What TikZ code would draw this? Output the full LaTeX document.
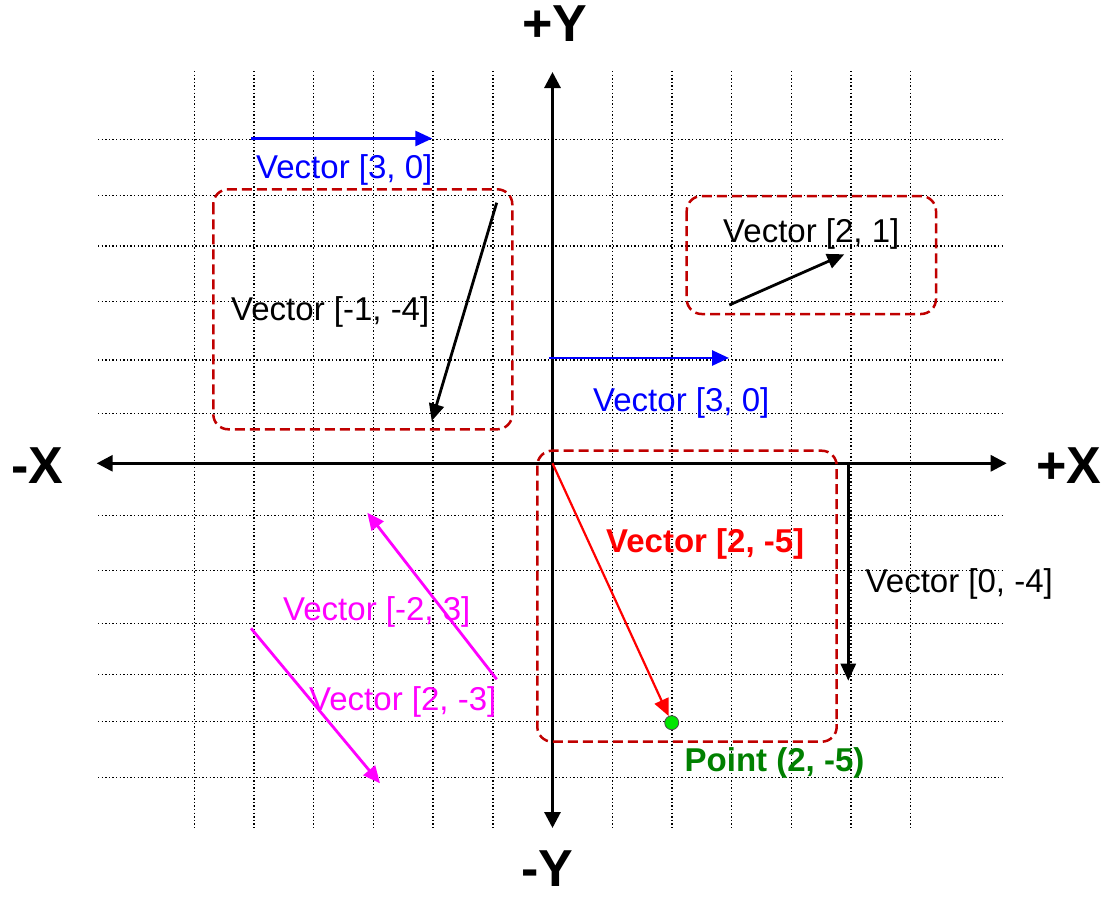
\documentclass[tikz,border=0pt]{standalone}
\usepackage{fontspec}
\setmainfont{Liberation Sans}
\usetikzlibrary{arrows.meta}
\definecolor{VecBlue}{RGB}{0,0,255}
\definecolor{VecRed}{RGB}{255,0,0}
\definecolor{VecMagenta}{RGB}{255,0,255}
\definecolor{FrameRed}{RGB}{192,0,0}
\definecolor{PointGreen}{RGB}{0,128,0}
\definecolor{PointFill}{RGB}{0,230,0}

\begin{document}
\begin{tikzpicture}[x=1pt,y=-1pt,
   tip/.style={-{Triangle[length=17pt,width=15pt]}},
   vec/.style={line width=2.8pt,tip},
   axis/.style={line width=3pt,{Triangle[length=16pt,width=16pt]}-{Triangle[length=16pt,width=16pt]}},
   frm/.style={FrameRed,line width=2.5pt,dash pattern=on 10pt off 5pt,rounded corners=15pt},
   lbl/.style={anchor=base west,inner sep=0pt,font=\fontsize{33}{38}\selectfont},
   axlbl/.style={inner sep=0pt,font=\fontsize{52}{60}\selectfont\bfseries},
   gridline/.style={line width=1.4pt,dash pattern=on 1.4pt off 2.2pt}]
\useasboundingbox (0,0) rectangle (1101,897);
% dotted grid
\foreach \i in {-6,-5,-4,-3,-2,-1,1,2,3,4,5,6} {
   \draw[gridline] ({552.5+59.7*\i},71) -- ({552.5+59.7*\i},828);
}
\foreach \y in {139.3,195.7,246,301.3,360,413.3,515.7,570.7,623.3,674.3,721.7,777.3} {
   \draw[gridline] (98,\y) -- (1005,\y);
}
% axes
\coordinate (O) at (552.5,463.3);
\coordinate (xl) at (96.7,463.3);
\coordinate (xr) at (1006.7,463.3);
\coordinate (yt) at (552.5,72);
\coordinate (yb) at (552.5,828);
\draw[axis] (xl) -- (xr);
\draw[axis] (yb) -- (yt);
\node[axlbl] (ypos) at (555,24) {+Y};
\node[axlbl] (yneg) at (547.5,869) {-Y};
\node[axlbl] (xneg) at (37.5,465.3) {-X};
\node[axlbl] (xpos) at (1069,465.3) {+X};
% frames
\draw[frm] (213.3,189.3) rectangle (512.3,429.3);
\draw[frm] (686.7,196) rectangle (936,314);
\draw[frm] (537.3,450.7) rectangle (836.7,741.7);
% vectors
\coordinate (a0) at (251,138.5);
\coordinate (a1) at (432.3,138.5);
\draw[vec,VecBlue] (a0) -- (a1);
\node[lbl,VecBlue] (la) at (256,178.3) {Vector [3, 0]};
\coordinate (b0) at (549,358);
\coordinate (b1) at (729,358);
\draw[vec,VecBlue] (b0) -- (b1);
\node[lbl,VecBlue] (lb) at (593,411.7) {Vector [3, 0]};
\coordinate (c0) at (496.7,202.7);
\coordinate (c1) at (431.7,421);
\draw[vec] (c0) -- (c1);
\node[lbl] (lc) at (231,320) {Vector [-1, -4]};
\coordinate (d0) at (729.3,305);
\coordinate (d1) at (844.3,254.3);
\draw[vec] (d0) -- (d1);
\node[lbl] (ld) at (723,242.7) {Vector [2, 1]};
\coordinate (e0) at (848.3,463.3);
\coordinate (e1) at (848.3,680.7);
\draw[vec] (e0) -- (e1);
\node[lbl] (le) at (865.5,592.7) {Vector [0, -4]};
\coordinate (f0) at (496.7,679.3);
\coordinate (f1) at (367.3,512.7);
\draw[vec,VecMagenta] (f0) -- (f1);
\node[lbl,VecMagenta] (lf) at (283,620) {Vector [-2, 3]};
\coordinate (g0) at (251,628.3);
\coordinate (g1) at (380,783.3);
\draw[vec,VecMagenta] (g0) -- (g1);
\node[lbl,VecMagenta] (lg) at (309,710) {Vector [2, -3]};
% point
\node[circle,draw=black!70,fill=PointFill,minimum size=14pt,inner sep=0pt,line width=0.8pt] (pt) at (671.7,722.7) {};
\draw[vec,line width=2.2pt,VecRed] (O) -- (pt);
\node[lbl,VecRed,font=\fontsize{33}{38}\selectfont\bfseries] (lr) at (606,552.7) {Vector [2, -5]};
\node[lbl,PointGreen,font=\fontsize{33}{38}\selectfont\bfseries] (lp) at (684.5,771.7) {Point (2, -5)};
\end{tikzpicture}
\end{document}
